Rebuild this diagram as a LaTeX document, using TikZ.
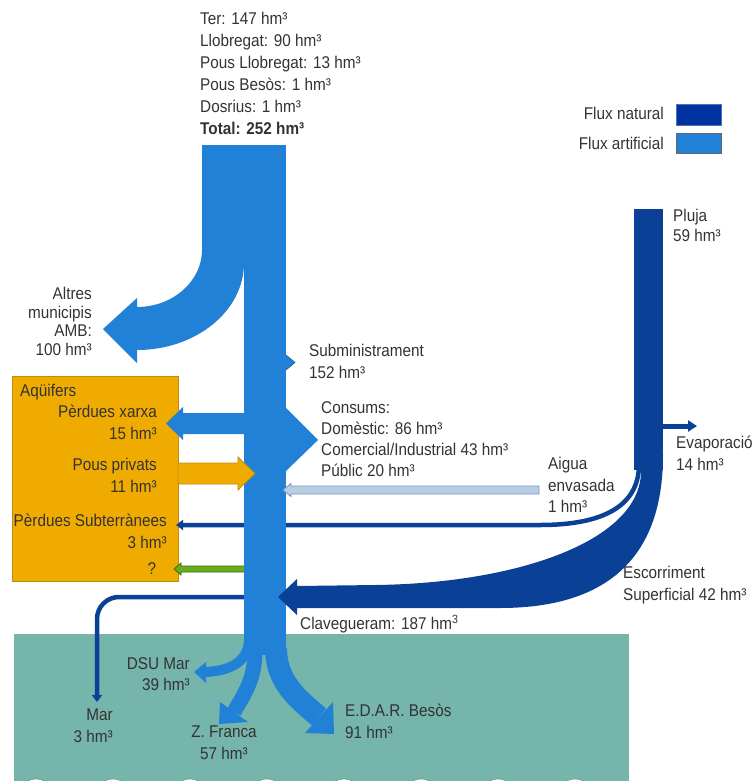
\documentclass[tikz,border=0pt]{standalone}
\usepackage{fontspec}
\setmainfont{Liberation Sans}[FakeStretch=0.9]
\usetikzlibrary{arrows.meta}
\definecolor{art}{HTML}{2181D6}
\definecolor{nat}{HTML}{0A4196}
\definecolor{natbox}{HTML}{0033A0}
\definecolor{aqui}{HTML}{F0AB00}
\definecolor{aquiedge}{HTML}{C08A10}
\definecolor{sea}{HTML}{75B5AB}
\definecolor{txt}{HTML}{333333}
\definecolor{bottle}{HTML}{B7CFE3}
\definecolor{bottleedge}{HTML}{7F8FC0}
\definecolor{unk}{HTML}{6AAD1C}

\begin{document}
\begin{tikzpicture}[x=1pt,y=-1pt,
  lbl/.style={font=\fontsize{17}{21.7}\selectfont,text=txt,inner sep=0pt},
  thinflow/.style={draw=nat,line width=4.5pt,-{Triangle[width=10pt,length=7pt]}}]
\useasboundingbox (0,0) rectangle (752,781);

% mar i aquifers
\fill[sea] (14,634) rectangle (629,781);
\foreach \x in {36,113,...,600}
  \draw[sea!70!black,fill=white] (\x,797) circle (18);
\draw[aquiedge,fill=aqui] (12,376) rectangle (178,581);

% fluxos sota la canonada
\draw[thinflow] (639,466) .. controls (638,505) and (605,525) .. (540,525) -- (176,525);
\draw[thinflow,rounded corners=22pt] (250,597) -- (97,597) -- (97,702);
\filldraw[draw=unk!60!black,fill=unk,line width=0.8pt] (246,566) -- (181,566) -- (181,563)
  -- (174,569) -- (181,575) -- (181,572) -- (246,572) -- cycle;
\fill[unk!60!black] (245,565) rectangle (250,573);

% flux artificial
\fill[art] (202,145) -- (202,250) .. controls (202,281) and (173,307) .. (137,307)
  -- (137,298) -- (103,329) -- (137,363) -- (137,350)
  .. controls (196,350) and (244,311) .. (244,263) -- (244,145) -- cycle;
\fill[art] (243.5,145) rectangle (286,655);
\draw[art,line width=10pt] (249,642) .. controls (247,662) and (230,671) .. (205,672);
\fill[art] (206,662) -- (194,672) -- (206,683) -- cycle;
\draw[art,line width=15pt] (255,648) .. controls (256,680) and (242,697) .. (234,712);
\fill[art] (220,702) -- (219,724) -- (248,722) -- cycle;
\draw[art,line width=22pt] (276,648) .. controls (276,682) and (298,699) .. (319,717);
\fill[art] (333,702) -- (334,734) -- (305,733) -- cycle;
\filldraw[draw=art!70!black,fill=art,line width=0.6pt] (286,355) -- (295,362.5) -- (286,370);
\fill[art] (286,408) -- (318,440) -- (286,471) -- cycle;
\fill[art] (245,413) -- (183,413) -- (183,407) -- (166,423.5) -- (183,440) -- (183,434)
  -- (245,434) -- cycle;
\filldraw[draw=aquiedge,fill=aqui,line width=0.8pt] (178,463) -- (238,463) -- (238,457)
  -- (255,473.5) -- (238,490) -- (238,484) -- (178,484) -- cycle;
\filldraw[draw=bottleedge,fill=bottle,line width=0.8pt] (539,486) -- (291,486) -- (291,483.5)
  -- (283,490) -- (291,496.5) -- (291,494) -- (539,494) -- cycle;

% flux natural
\fill[nat] (634,209) rectangle (663,470);
\fill[nat] (663,455) .. controls (663,555) and (610,608) .. (500,608) -- (297,608) -- (297,615)
  -- (278,597) -- (297,579) -- (297,586) -- (376,585)
  .. controls (520,583) and (640,540) .. (641,472) -- (641,455) -- cycle;
\draw[nat,line width=5pt,-{Triangle[width=11pt,length=9pt]}] (660,426) -- (697,426);

% llegenda
\filldraw[draw=natbox!70!white,fill=natbox] (676,104) rectangle (721,125);
\filldraw[draw=gray!80!black,fill=art] (676,133) rectangle (721,153);
\node[lbl,anchor=east] (legnat) at (664,113) {Flux natural};
\node[lbl,anchor=east] (legart) at (664,143) {Flux artificial};

% etiquetes
\node[lbl,anchor=north west,align=left,font=\fontsize{17}{22}\selectfont] (fonts) at (200,12)
  {Ter: 147 hm³\\Llobregat: 90 hm³\\Pous Llobregat: 13 hm³\\Pous Besòs: 1 hm³\\Dosrius: 1 hm³\\\textbf{Total: 252 hm³}};
\node[lbl,anchor=north east,align=right,font=\fontsize{17}{18.7}\selectfont] (altres) at (92,287)
  {Altres\\municipis\\AMB:\\100 hm³};
\node[lbl,anchor=north west,align=left] (subm) at (309,344) {Subministrament\\152 hm³};
\node[lbl,anchor=north west,align=left,font=\fontsize{17}{21}\selectfont] (consums) at (321,401)
  {Consums:\\Domèstic: 86 hm³\\Comercial/Industrial 43 hm³\\Públic 20 hm³};
\node[lbl,anchor=north west] (aquif) at (20,384) {Aqüifers};
\node[lbl,anchor=north east,align=right] (perdxarxa) at (157,405) {Pèrdues xarxa\\15 hm³};
\node[lbl,anchor=north east,align=right] (pousp) at (157,458) {Pous privats\\11 hm³};
\node[lbl,anchor=north east,align=right] (perdsub) at (167,514) {Pèrdues Subterrànees\\3 hm³};
\node[lbl] (unknown) at (152,569) {?};
\node[lbl,anchor=north west,align=left] (envas) at (548,457) {Aigua\\envasada\\1 hm³};
\node[lbl,anchor=north west,align=left] (evap) at (676,436) {Evaporació\\14 hm³};
\node[lbl,anchor=north west,align=left,font=\fontsize{17}{20}\selectfont] (pluja) at (673,209) {Pluja\\59 hm³};
\node[lbl,anchor=north west,align=left] (escorr) at (623,566) {Escorriment\\Superficial 42 hm³};
\node[lbl,anchor=north west] (clav) at (300,615) {Clavegueram: 187 hm\textsuperscript{3}};
\node[lbl,anchor=north east,align=right] (dsu) at (190,657) {DSU Mar\\39 hm³};
\node[lbl,anchor=north east,align=right] (mar) at (113,709) {Mar\\3 hm³};
\node[lbl,anchor=north,align=center] (zfranca) at (224,726) {Z. Franca\\57 hm³};
\node[lbl,anchor=north west,align=left] (edar) at (345,704) {E.D.A.R. Besòs\\91 hm³};
\end{tikzpicture}
\end{document}
